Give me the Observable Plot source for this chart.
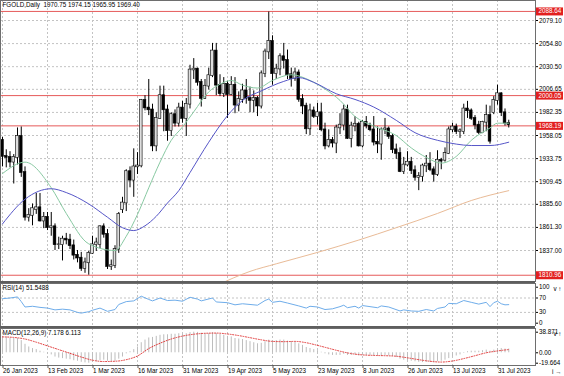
<!DOCTYPE html>
<html>
<head>
<meta charset="utf-8">
<script src="https://cdn.jsdelivr.net/npm/d3@7"></script>
<script src="https://cdn.jsdelivr.net/npm/@observablehq/plot@0.6"></script>
<style>
  body { margin: 0; background: #fff; }
  #wrap { position: relative; width: 564px; height: 376px; overflow: hidden; background: #fff; }
  .panel { position: absolute; left: 0; }
  .sep { position: absolute; left: 0; width: 535px; height: 2px; background: #5e5e5e; }
</style>
</head>
<body>
<div id="wrap"></div>
<script>
// ---------------- data ----------------
const symbol = "FGOLD", period = "Daily";
const opens = [
1953,1936,1935,1930,1935,1957,1919,1872,1874,1880,
1882,1868,1872,1861,1862,1843,1843,1849,1848,1842,
1832,1829,1818,1824,1834,1843,1843,1862,1854,1820,
1821,1838,1880,1887,1920,1911,1925,1926,1995,1987,
1985,1947,1976,2000,1985,1963,1980,1971,1987,1976,
1991,2027,2028,2014,1997,2010,2021,2047,2011,2002,
2012,2001,2011,1990,1996,2005,1997,1995,1997,1989,
2023,2046,2057,2023,2028,2041,2037,2022,2018,2024,
1996,1989,1965,1984,1978,1982,1964,1947,1953,1950,
1966,1969,1985,1955,1968,1970,1947,1972,1968,1964,
1951,1949,1964,1965,1957,1943,1939,1920,1927,1930,
1921,1914,1915,1926,1928,1922,1917,1932,1932,1939,
1964,1967,1962,1962,1986,1984,1976,1969,1961,1972,
1979,1982,1995,2002,1982,1970.75];
const highs = [
1956,1943,1941,1938,1966,1967,1925,1881,1886,1897,
1897,1877,1877,1877,1865,1851,1852,1855,1854,1848,
1837,1835,1829,1836,1852,1850,1863,1865,1859,1827,
1842,1877,1893,1922,1925,1944,1940,1996,2000,2017,
1991,1982,2010,2010,1990,1982,1985,1992,1994,1997,
2032,2039,2029,2017,2017,2029,2055,2055,2022,2019,
2015,2020,2019,2004,2012,2017,2009,2005,1999,2026,
2049,2088,2063,2033,2044,2055,2048,2029,2029,2027,
2001,1992,1991,1988,1992,1992,1971,1964,1956,1969,
1981,1990,1990,1972,1978,1972,1974,1978,1971,1978,
1967,1966,1976,1967,1959,1949,1945,1935,1941,1935,
1926,1919,1928,1937,1940,1925,1942,1934,1945,1967,
1971,1970,1965,1991,1994,1986,1979,1973,1973,1990,
1989,1999,2011,2003,1986,1974.15];
const lows = [
1925,1924,1924,1907,1927,1914,1868,1867,1863,1875,
1867,1860,1858,1852,1837,1838,1826,1843,1838,1827,
1824,1815,1813,1811,1833,1836,1839,1850,1817,1816,
1818,1834,1876,1878,1903,1893,1917,1924,1984,1979,
1941,1941,1975,1962,1952,1957,1967,1967,1971,1957,
1986,2017,2010,1988,1996,2006,2019,2000,1999,1998,
1976,2000,1981,1983,1992,1991,1982,1982,1978,1986,
2019,2038,2011,2017,2021,2028,2017,2009,2015,1993,
1980,1959,1958,1976,1969,1962,1943,1945,1945,1939,
1959,1963,1954,1945,1962,1946,1945,1965,1962,1947,
1939,1932,1959,1954,1939,1933,1919,1917,1925,1917,
1910,1900,1909,1919,1920,1909,1915,1922,1930,1938,
1961,1959,1955,1959,1976,1974,1964,1959,1960,1962,
1949,1980,1990,1978,1968,1965.95];
const closes = [
1936,1935,1930,1935,1957,1919,1872,1874,1881,1882,
1868,1872,1861,1862,1843,1843,1849,1848,1842,1832,
1829,1818,1824,1834,1843,1845,1862,1854,1820,1821,
1838,1875,1887,1920,1911,1925,1926,1995,1987,1985,
1947,1976,2000,1985,1963,1980,1971,1987,1976,1991,
2027,2028,2014,1997,2010,2021,2047,2011,2002,2012,
2001,2011,1990,1996,2005,1997,1995,1997,1989,2023,
2046,2057,2023,2028,2041,2037,2022,2018,2024,1996,
1989,1965,1984,1978,1982,1964,1947,1953,1950,1966,
1969,1985,1955,1968,1970,1947,1972,1968,1964,1951,
1949,1964,1965,1957,1943,1939,1920,1927,1930,1921,
1914,1915,1926,1928,1922,1917,1932,1931,1939,1964,
1967,1962,1963,1986,1984,1976,1969,1961,1972,1979,
1952,1995,2002,1982,1971,1969.40];

// moving averages (bar index, value)
const maFastIdx  = [0,6,13,17,23,30,33,36,39,42,45,48,51,55,58,61,64,68,72,77,82,86,90,94,99,105,109,113,117,121,125,130,132,135];
const maFastVals = [1918,1930,1903,1876,1844,1837,1852,1875,1903,1930,1953,1967,1983,2004,2012,2016,2011,2008,2016,2022,2016,2007,1995,1978,1968,1958,1945,1935,1929,1936,1953,1966,1971,1971];
const maMidIdx  = [0,6,13,17,23,28,32,35,38,41,44,47,50,55,60,64,69,75,79,83,89,94,99,105,110,116,121,125,130,135];
const maMidVals = [1865,1891,1902,1898,1886,1872,1861,1858,1863,1873,1887,1900,1919,1951,1979,1995,2005,2015,2019,2014,2002,1996,1988,1974,1961,1953,1949,1947.5,1947.5,1951];
const maSlowIdx  = [57,66,73,84,95,105,116,125,135];
const maSlowVals = [1800,1815,1823,1835,1848,1861,1876,1889.6,1900];

// horizontal levels drawn on the chart
const levels = [2088.64, 2000.05, 1968.19, 1810.96];
const priceTicks = [2079.10, 2054.80, 2030.50, 2006.65, 1982.35, 1958.05, 1933.75, 1909.45, 1885.60, 1861.30, 1837.00];

// RSI(14)
const rsiIdx = [0,2,4,5,6,8,10,12,14,16,18,20,21,23,24,26,28,30,31,33,35,37,39,40,42,44,46,48,50,52,53,56,57,60,62,64,66,68,70,71,72,74,76,79,81,82,84,86,88,90,91,92,94,95,96,98,100,101,103,106,107,109,111,113,115,116,118,119,121,123,125,127,129,130,131,132,133,134,135];
const rsiVals = [68,70,73,60,45,47,44,42,37,39,37,30,28,32,36,42,33,38,52,60,62,75,66,62,70,63,64,61,72,67,62,70,59,57,51,54,52,50,63,67,58,61,56,48,42,47,45,38,40,46,50,43,47,42,49,46,43,48,45,34,37,34,33,38,34,41,45,55,54,63,58,53,58,46,57,61,54,51,51.5488];
const rsiTicks = [100, 70, 30, 0];
const rsiLevels = [70, 30];

// MACD(12,26,9): main per bar, signal read at every third bar
const macdMain = [
31,30,28,27,27,23,16,11,8,6,
3,1,-2,-4,-8,-10,-11,-12,-13,-15,
-16,-18,-19,-19.664,-18,-17,-15,-14,-16,-17,
-16,-12,-8,-2,2,6,11,19,24,28,
29,31,33,34,34,35,35,36,35,36,
38,38.871,38.5,37,36.5,36.5,38,36.5,34.5,33,
31,30,27,26,25,23,21,19,17,18,
21,24,23,23,24,24,22,21,20,17,
14,10,8,6,4,1,-2,-4,-5,-5,
-5,-3,-5,-5,-4,-6,-5,-5,-5,-6,
-6,-6,-5,-6,-7,-9,-12,-14,-15,-16,
-17,-18,-18.5,-18,-18,-19,-17,-16,-14,-11,
-8,-6,-4,-1,2,3,3,3,4,5,
3,5,8,8,7,7.178];
const signalIdx  = [0,3,6,9,12,15,18,21,24,27,30,33,36,39,42,45,48,51,54,57,60,63,66,69,72,75,78,81,84,87,90,93,96,99,102,105,108,111,114,117,120,123,126,129,132,135];
const signalVals = [30,29,26,20,13,6,-1,-8,-14,-16.5,-16,-13,-6,8,18,26,31.5,35,36.8,37.2,35.5,32.5,28.5,24.5,21.5,21,21.5,19,14,8.5,3,-1.5,-4,-5,-5.5,-6.5,-9.5,-13,-16,-17.5,-15.5,-11,-5.5,0,3.5,6.113];
const macdTicks = [38.871, 0, -19.664];

// time axis
const tickIdx = [0,12,24,36,48,60,72,84,96,108,120,132];
const tickLabels = ["26 Jan 2023","13 Feb 2023","1 Mar 2023","16 Mar 2023","31 Mar 2023","19 Apr 2023","5 May 2023","23 May 2023","8 Jun 2023","26 Jun 2023","13 Jul 2023","31 Jul 2023"];

// ---------------- build ----------------
const FONT = "'Liberation Sans', Arial, sans-serif";
const FS = "6.3px";
const candles = opens.map((o, i) => ({i, open: o, high: highs[i], low: lows[i], close: closes[i]}));
const pts = (idx, vals) => idx.map((i, k) => ({i, v: vals[k]}));
const last = candles[candles.length - 1];
const f2 = d => d.toFixed(2);

const X = {domain: [0, 135], range: [2, 508.25], axis: null};
const GRID = {stroke: "#c3c3c3", strokeOpacity: 1, strokeDasharray: "2,2"};
const common = {width: 564, marginLeft: 0, marginRight: 29, marginTop: 0,
  style: {fontFamily: FONT, fontSize: FS, background: "transparent", color: "#000"}};

const main = Plot.plot({
  ...common, height: 282, marginBottom: 0,
  x: X,
  y: {domain: [1837.00, 2079.10], range: [250, 20], axis: null},
  marks: [
    Plot.gridX(tickIdx, GRID),
    Plot.gridY(priceTicks, GRID),
    Plot.ruleY(levels, {stroke: "#e65a5a", strokeWidth: 1}),
    Plot.line(pts(maSlowIdx, maSlowVals), {x: "i", y: "v", stroke: "#e9bb97", strokeWidth: 1, curve: "monotone-x", clip: true}),
    Plot.ruleX(candles, {x: "i", y1: "low", y2: "high", stroke: "#000", strokeWidth: 1}),
    Plot.rect(candles, {x1: d => d.i - 0.36, x2: d => d.i + 0.36, y1: "open", y2: "close",
      fill: d => d.close >= d.open ? "#dedede" : "#000", stroke: "#000", strokeWidth: 0.6,
      insetTop: -0.4, insetBottom: -0.4}),
    Plot.line(pts(maFastIdx, maFastVals), {x: "i", y: "v", stroke: "#88c9a2", strokeWidth: 1, curve: "monotone-x"}),
    Plot.line(pts(maMidIdx, maMidVals), {x: "i", y: "v", stroke: "#5656c8", strokeWidth: 1, curve: "monotone-x"}),
    Plot.frame({stroke: "#6e6e6e"}),
    Plot.axisY(priceTicks, {anchor: "right", tickFormat: f2, tickSize: 2, tickPadding: 1.5, fill: "#000"}),
    Plot.ruleY(levels, {insetLeft: 536, insetRight: -28, stroke: "#e21f1f", strokeWidth: 8}),
    Plot.text(levels, {y: d => d, text: f2, frameAnchor: "right", dx: 3, textAnchor: "start", fill: "#fff"}),
    Plot.text([`${symbol},${period}  ${f2(last.open)} ${f2(last.high)} ${f2(last.low)} ${f2(last.close)}`],
      {frameAnchor: "top-left", dx: 2, dy: 2.5, textAnchor: "start", lineAnchor: "top", fill: "#000"})
  ]
});

const rsiPlot = Plot.plot({
  ...common, height: 43, marginBottom: 0,
  x: X,
  y: {domain: [0, 100], range: [39.7, 3.7], axis: null},
  marks: [
    Plot.gridX(tickIdx, GRID),
    Plot.ruleY(rsiLevels, {stroke: "#c3c3c3", strokeDasharray: "2,2"}),
    Plot.line(pts(rsiIdx, rsiVals), {x: "i", y: "v", stroke: "#6fadea", strokeWidth: 1}),
    Plot.frame({stroke: "#6e6e6e"}),
    Plot.axisY(rsiTicks, {anchor: "right", tickFormat: d => String(d), tickSize: 2, tickPadding: 1.5, fill: "#000"}),
    Plot.text([`RSI(14) ${rsiVals[rsiVals.length - 1].toFixed(4)}`],
      {frameAnchor: "top-left", dx: 2, dy: 2, textAnchor: "start", lineAnchor: "top", fill: "#000"})
  ]
});

const macdPts = macdMain.map((v, i) => ({i, v}));
const macdPlot = Plot.plot({
  ...common, height: 48, marginBottom: 11,
  x: X,
  y: {domain: [-19.664, 38.871], range: [34.7, 3.7], axis: null},
  marks: [
    Plot.gridX(tickIdx, GRID),
    Plot.ruleX(macdPts, {x: "i", y1: 0, y2: "v", stroke: "#bdbdbd", strokeWidth: 1}),
    Plot.line(pts(signalIdx, signalVals), {x: "i", y: "v", stroke: "#e23a3a", strokeWidth: 1, strokeDasharray: "1,1.6", curve: "monotone-x"}),
    Plot.frame({stroke: "#6e6e6e"}),
    Plot.axisY(macdTicks, {anchor: "right", tickFormat: d => d === 0 ? "0.00" : String(d), tickSize: 2, tickPadding: 1.5, fill: "#000"}),
    Plot.axisX(tickIdx, {anchor: "bottom", tickFormat: d => tickLabels[tickIdx.indexOf(d)], textAnchor: "start",
      tickSize: 3, tickPadding: 0.5, dx: 0.5, fill: "#000", stroke: "#555"}),
    Plot.text([`MACD(12,26,9) ${macdMain[macdMain.length - 1].toFixed(3)} ${signalVals[signalVals.length - 1].toFixed(3)}`],
      {frameAnchor: "top-left", dx: 2, dy: 2, textAnchor: "start", lineAnchor: "top", fill: "#000"})
  ]
});

const wrap = document.getElementById("wrap");
function place(node, top) { node.classList.add("panel"); node.style.top = top + "px"; wrap.appendChild(node); }
place(main, 0);
place(rsiPlot, 283);
place(macdPlot, 328);
for (const t of [281, 326]) { const s = document.createElement("div"); s.className = "sep"; s.style.top = t + "px"; wrap.appendChild(s); }
</script>
</body>
</html>
